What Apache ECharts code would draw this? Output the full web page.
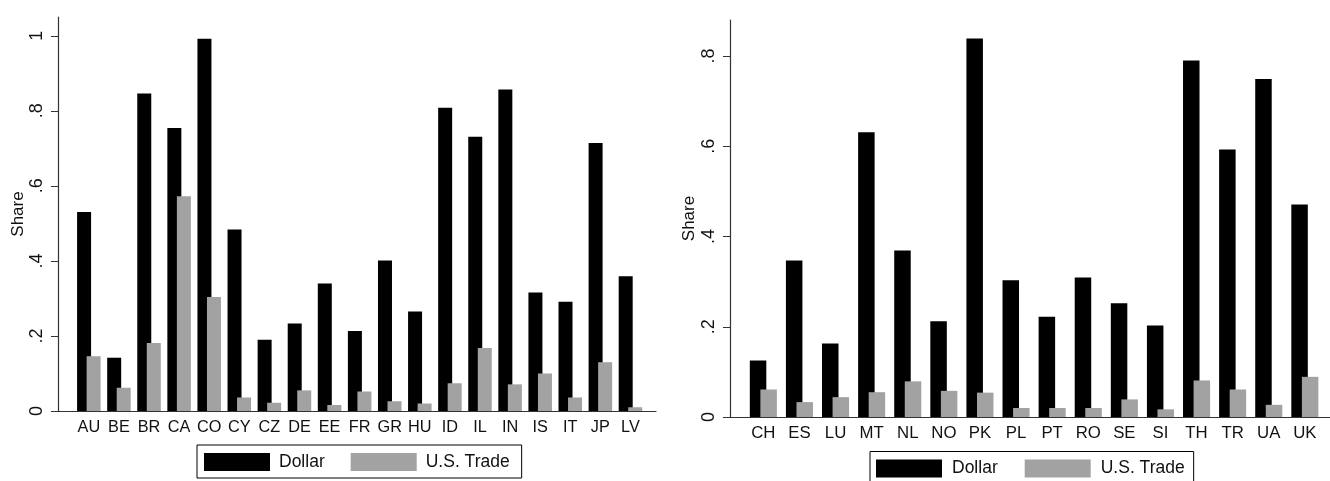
<!DOCTYPE html>
<html>
<head>
<meta charset="utf-8">
<title>Dollar vs U.S. Trade share</title>
<script src="https://cdn.jsdelivr.net/npm/echarts@6/dist/echarts.min.js"></script>
<style>
  html, body { margin: 0; padding: 0; background: #fff; }
  #chart { width: 1330px; height: 481px; }
</style>
</head>
<body>
<div id="chart"></div>
<script>
// left panel
const leftCountries = ["AU", "BE", "BR", "CA", "CO", "CY", "CZ", "DE", "EE", "FR", "GR", "HU", "ID", "IL", "IN", "IS", "IT", "JP", "LV"];
const leftDollar = [0.530, 0.142, 0.846, 0.754, 0.992, 0.484, 0.190, 0.233, 0.340, 0.213, 0.401, 0.265, 0.808, 0.731, 0.857, 0.316, 0.291, 0.714, 0.359];
const leftTrade = [0.146, 0.062, 0.181, 0.572, 0.304, 0.036, 0.022, 0.055, 0.016, 0.052, 0.026, 0.020, 0.074, 0.168, 0.071, 0.100, 0.036, 0.130, 0.010];
const leftTicks = [0, 0.2, 0.4, 0.6, 0.8, 1];
const leftMax = 1.05;

// right panel
const rightCountries = ["CH", "ES", "LU", "MT", "NL", "NO", "PK", "PL", "PT", "RO", "SE", "SI", "TH", "TR", "UA", "UK"];
const rightDollar = [0.125, 0.347, 0.163, 0.631, 0.369, 0.212, 0.839, 0.303, 0.222, 0.309, 0.252, 0.203, 0.790, 0.593, 0.749, 0.471];
const rightTrade = [0.061, 0.033, 0.044, 0.055, 0.079, 0.058, 0.054, 0.020, 0.020, 0.020, 0.039, 0.017, 0.081, 0.061, 0.027, 0.089];
const rightTicks = [0, 0.2, 0.4, 0.6, 0.8];
const rightMax = 0.88;

const seriesNames = ["Dollar", "U.S. Trade"];

const FONT = "'Liberation Sans', Arial, sans-serif";
const TEXT = "#111";
const AXIS = "#333";
const BLACK = "#000000";
const GREY = "#a2a2a2";

// stata style: ".2" instead of "0.2"
const stataFmt = (v) => (v === 0 ? "0" : String(+v.toFixed(2)).replace(/^0/, ""));

const chart = echarts.init(document.getElementById("chart"));

// frame axis (value axis that only draws the baseline across the full plot width)
const frameX = (gridIndex) => ({
  type: "value",
  gridIndex,
  min: 0,
  max: 1,
  axisLine: { show: true, lineStyle: { color: AXIS, width: 1.2 } },
  axisTick: { show: false },
  axisLabel: { show: false },
  splitLine: { show: false },
});

const frameY = (gridIndex, max, ticks, nameGap) => ({
  type: "value",
  gridIndex,
  min: 0,
  max,
  name: "Share",
  nameLocation: "middle",
  nameGap,
  nameRotate: 90,
  nameTextStyle: { fontFamily: FONT, fontSize: 17, color: TEXT },
  axisLine: { show: true, lineStyle: { color: AXIS, width: 1.2 } },
  axisTick: { show: true, length: 7, customValues: ticks, lineStyle: { color: AXIS } },
  axisLabel: {
    customValues: ticks,
    rotate: 90,
    margin: 12,
    fontFamily: FONT,
    fontSize: 18,
    color: TEXT,
    formatter: stataFmt,
  },
  splitLine: { show: false },
});

const barX = (gridIndex, cats, fontSize, margin) => ({
  type: "category",
  gridIndex,
  data: cats,
  axisLine: { show: false },
  axisTick: { show: false },
  axisLabel: { fontFamily: FONT, fontSize, color: TEXT, margin, interval: 0 },
});

const barY = (gridIndex, max) => ({
  type: "value",
  gridIndex,
  min: 0,
  max,
  show: false,
});

const bars = (name, data, axisIndex, color, width, gap) => ({
  name,
  type: "bar",
  xAxisIndex: axisIndex,
  yAxisIndex: axisIndex,
  data,
  barWidth: width,
  barGap: gap,
  itemStyle: { color },
  emphasis: { disabled: true },
});

const option = {
  backgroundColor: "#ffffff",
  animation: false,
  grid: [
    { left: 58, top: 17, width: 598, height: 394 },
    { left: 73.8, top: 17, width: 571.7, height: 394 },
    { left: 730, top: 20, width: 600, height: 397 },
    { left: 745.3, top: 20, width: 577.6, height: 397 },
  ],
  xAxis: [
    frameX(0),
    barX(1, leftCountries, 16.3, 9),
    frameX(2),
    barX(3, rightCountries, 16.8, 8),
  ],
  yAxis: [
    frameY(0, leftMax, leftTicks, 30),
    barY(1, leftMax),
    frameY(2, rightMax, rightTicks, 32),
    barY(3, rightMax),
  ],
  legend: [
    {
      left: 197,
      top: 445,
      data: seriesNames,
      icon: "rect",
      itemWidth: 66,
      itemHeight: 18,
      itemGap: 26,
      padding: [8, 12, 7, 7],
      borderColor: "#000",
      borderWidth: 1,
      selectedMode: false,
      textStyle: { fontFamily: FONT, fontSize: 17.5, color: TEXT, padding: [0, 0, 0, 4] },
    },
    {
      left: 870,
      top: 451.5,
      data: seriesNames,
      icon: "rect",
      itemWidth: 66,
      itemHeight: 18,
      itemGap: 27,
      padding: [8, 9, 7, 6],
      borderColor: "#000",
      borderWidth: 1,
      selectedMode: false,
      textStyle: { fontFamily: FONT, fontSize: 17.5, color: TEXT, padding: [0, 0, 0, 5] },
    },
  ],
  series: [
    bars(seriesNames[0], leftDollar, 1, BLACK, 14, "-32%"),
    bars(seriesNames[1], leftTrade, 1, GREY, 14, "-32%"),
    bars(seriesNames[0], rightDollar, 3, BLACK, 16.5, "-36%"),
    bars(seriesNames[1], rightTrade, 3, GREY, 16.5, "-36%"),
  ],
};

chart.setOption(option);
window.addEventListener("resize", () => chart.resize());
</script>
</body>
</html>
